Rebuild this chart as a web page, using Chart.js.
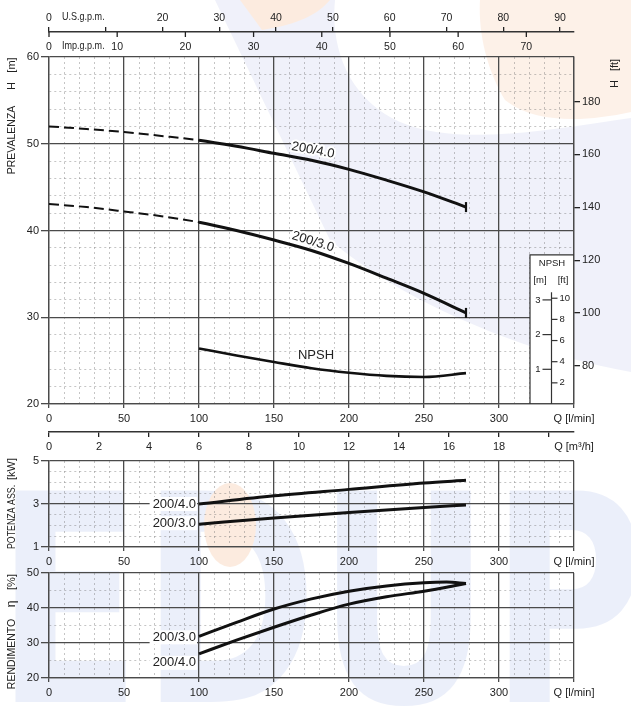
<!DOCTYPE html>
<html lang="it">
<head>
<meta charset="utf-8">
<title>Curve caratteristiche 200/3.0 - 200/4.0</title>
<script src="https://cdn.jsdelivr.net/npm/chart.js@4.4.1/dist/chart.umd.min.js"></script>
<style>
  body { margin: 0; background: #fff; }
  #wrap { position: relative; width: 631px; height: 709px; overflow: hidden; }
  #wm { position: absolute; left: 0; top: 0; opacity: 0.55; }
  canvas { position: absolute; left: 0; }
</style>
</head>
<body>
<div id="wrap">
  <!-- filigrana di sfondo -->
  <svg id="wm" width="631" height="709" viewBox="0 0 631 709">
    <path d="M215,0 L335,0 C330,50 350,100 400,122 C460,148 560,128 631,118 L631,372 C520,352 400,300 330,240 Z" fill="#e4e7f6"/>
    <path d="M480,0 L631,0 L631,112 C585,122 535,124 505,100 C488,72 478,35 480,0 Z" fill="#fde6d6"/>
    <path d="M240,0 L330,0 C318,14 300,24 262,30 Z" fill="#fbdcc6"/>
    <text x="-4" y="702" font-family="DejaVu Sans" font-weight="bold" font-size="290" textLength="650" lengthAdjust="spacingAndGlyphs" fill="#dce3f7">EDUP</text>
    <ellipse cx="230" cy="525" rx="26" ry="42" fill="#fbdcc6"/>
  </svg>
  <canvas id="cH" width="631" height="455" style="top:0;width:631px;height:455px"></canvas>
  <canvas id="cP" width="631" height="118" style="top:452px;width:631px;height:118px"></canvas>
  <canvas id="cE" width="631" height="143" style="top:566px;width:631px;height:143px"></canvas>
</div>
<script>
// --- dati ---
const curveNames = ['200/4.0', '200/3.0'];
const qHead  = [0, 25, 50, 75, 100, 125, 150, 175, 200, 225, 250, 278];
const head40 = [52.0, 51.7, 51.35, 50.9, 50.4, 49.7, 48.9, 48.1, 47.05, 45.8, 44.45, 42.7];
const head30 = [43.05, 42.7, 42.2, 41.65, 40.95, 40.0, 38.9, 37.7, 36.2, 34.5, 32.75, 30.5];
const qNpsh  = [100, 125, 150, 175, 200, 225, 250, 278];
const npsh   = [1.6, 1.4, 1.21, 1.03, 0.9, 0.81, 0.78, 0.89];
const qPow   = [100, 150, 200, 250, 278];
const pow40  = [3.0, 3.38, 3.68, 3.98, 4.1];
const pow30  = [2.06, 2.35, 2.61, 2.84, 2.95];
const qEff   = [100, 125, 150, 175, 200, 225, 250, 265, 278];
const eff30  = [31.9, 35.9, 39.7, 42.6, 44.8, 46.3, 47.2, 47.4, 47.0];
const eff40  = [26.9, 30.8, 34.5, 38.0, 41.1, 43.2, 44.8, 45.9, 47.0];

// tick labels
const qTicks    = [0, 50, 100, 150, 200, 250, 300];
const usTicks   = [0, 10, 20, 30, 40, 50, 60, 70, 80, 90];
const impTicks  = [0, 10, 20, 30, 40, 50, 60, 70];
const m3Ticks   = [0, 2, 4, 6, 8, 10, 12, 14, 16, 18, 20];
const hTicks    = [20, 30, 40, 50, 60];
const ftTicks   = [80, 100, 120, 140, 160, 180];
const npshMTicks  = [1, 2, 3];
const npshFtTicks = [2, 4, 6, 8, 10];
const powTicks  = [1, 3, 5];
const effTicks  = [20, 30, 40, 50];

// conversioni
const Q_MAX = 350;
const LPM_US = 3.78541, LPM_IMP = 4.54609, LPM_M3H = 1000 / 60, FT_M = 3.28084;

const FONT = "'Liberation Sans', 'DejaVu Sans', Arial, sans-serif";
const INK = '#222';
const MAJOR = '#4a4a4a';
const MINOR = 'rgba(110,110,110,0.5)';
Chart.defaults.font.family = FONT;
Chart.defaults.font.size = 11;
Chart.defaults.color = INK;
Chart.defaults.animation = false;

const range = (a, b, s) => { const r = []; for (let v = a; v <= b + 1e-9; v += s) r.push(Math.round(v * 100) / 100); return r; };
const pts = (xs, ys) => xs.map((x, i) => ({ x, y: ys[i] }));

function fix(prop, val) {
  return s => { s[prop] = val; s.paddingLeft = s.paddingRight = s.paddingTop = s.paddingBottom = 0; };
}
const isMaj = (c, majors) => !!(c.tick && majors.includes(c.tick.value));
function gridStyle(majors, tickLen) {
  return {
    color: c => isMaj(c, majors) ? MAJOR : MINOR,
    lineWidth: c => isMaj(c, majors) ? 1.3 : 0.8,
    tickColor: c => isMaj(c, majors) ? MAJOR : 'rgba(0,0,0,0)',
    tickLength: tickLen
  };
}
function borderStyle(majors) {
  return { color: MAJOR, width: 1.3, dash: c => (c.tick && !majors.includes(c.tick.value)) ? [2, 3] : [] };
}

const qMajors = qTicks.concat([Q_MAX]);
function qScale(height) {
  return {
    type: 'linear', position: 'bottom', weight: 1, min: 0, max: Q_MAX,
    afterBuildTicks: s => { s.ticks = range(0, Q_MAX, 10).map(v => ({ value: v })); },
    afterFit: fix('height', height),
    ticks: { autoSkip: false, maxRotation: 0, padding: 4,
      callback: v => v === Q_MAX ? 'Q [l/min]' : (qTicks.includes(v) ? String(v) : '') },
    grid: gridStyle(qMajors, 4),
    border: borderStyle(qMajors)
  };
}
function valScale(min, max, step, labels, majors) {
  return {
    type: 'linear', position: 'left', min, max,
    afterBuildTicks: s => { s.ticks = range(min, max, step).map(v => ({ value: v })); },
    afterFit: fix('width', 49),
    ticks: { autoSkip: false, padding: 2, callback: v => labels.includes(v) ? String(v) : '' },
    grid: gridStyle(majors, 8),
    border: borderStyle(majors)
  };
}

const lineBase = { borderColor: '#111', borderWidth: 3, pointRadius: 0, fill: false,
  cubicInterpolationMode: 'monotone', xAxisID: 'x' };
const endTick = { pointStyle: 'line', rotation: 90, pointBorderWidth: 2.2, pointBorderColor: '#111',
  pointRadius: c => c.dataIndex === c.dataset.data.length - 1 ? 5 : 0 };
const dashed = { borderDash: c => c.p1.parsed.x <= 100 ? [10, 5] : undefined,
  borderWidth: c => c.p1.parsed.x <= 100 ? 2 : 3 };

// testo verticale, leggermente condensato come nell'originale
function vText(ctx, txt, x, y, size, squeeze) {
  ctx.save(); ctx.translate(x, y); ctx.rotate(-Math.PI / 2); ctx.scale(squeeze || 1, 1);
  ctx.font = size + 'px ' + FONT; ctx.fillStyle = INK;
  ctx.textAlign = 'center'; ctx.textBaseline = 'middle';
  ctx.fillText(txt, 0, 0); ctx.restore();
}
function narrowText(ctx, txt, x, y, size, squeeze) {
  ctx.save(); ctx.translate(x, y); ctx.scale(squeeze, 1);
  ctx.font = size + 'px ' + FONT; ctx.fillStyle = INK;
  ctx.textAlign = 'left'; ctx.textBaseline = 'middle';
  ctx.fillText(txt, 0, 0); ctx.restore();
}
function haloText(ctx, txt, x, y, deg, align) {
  ctx.save(); ctx.translate(x, y); ctx.rotate(deg * Math.PI / 180);
  ctx.font = '13px ' + FONT; ctx.textAlign = align || 'center'; ctx.textBaseline = 'middle';
  ctx.strokeStyle = '#fff'; ctx.lineWidth = 4; ctx.lineJoin = 'round';
  ctx.strokeText(txt, 0, 0); ctx.fillStyle = INK; ctx.fillText(txt, 0, 0); ctx.restore();
}
function seg(ctx, x1, y1, x2, y2) { ctx.beginPath(); ctx.moveTo(x1, y1); ctx.lineTo(x2, y2); ctx.stroke(); }

// ---------- grafico prevalenza ----------
const headExtras = {
  id: 'headExtras',
  beforeDatasetsDraw(chart) {
    const { ctx, chartArea: a } = chart;
    const yn = chart.scales.yn;
    const top = yn.getPixelForValue(4.3), bot = a.bottom;
    const L = a.right - 44, mid = a.right - 22.5;
    ctx.save();
    ctx.fillStyle = '#fff';
    ctx.fillRect(L, top, a.right - L - 1, bot - top - 1);
    ctx.strokeStyle = '#333'; ctx.lineWidth = 1.2;
    ctx.beginPath(); ctx.moveTo(L, bot); ctx.lineTo(L, top); ctx.lineTo(a.right, top); ctx.stroke();
    seg(ctx, mid, yn.getPixelForValue(3.22), mid, bot);
    ctx.fillStyle = INK; ctx.font = '9.5px ' + FONT;
    ctx.textAlign = 'center'; ctx.textBaseline = 'middle';
    ctx.fillText('NPSH', (L + a.right) / 2, top + 9);
    ctx.fillText('[m]', L + 10, top + 26);
    ctx.fillText('[ft]', a.right - 11, top + 26);
    ctx.textAlign = 'right';
    npshMTicks.forEach(m => { const y = yn.getPixelForValue(m); seg(ctx, mid - 9, y, mid, y); ctx.fillText(String(m), mid - 11, y); });
    ctx.textAlign = 'left';
    npshFtTicks.forEach(f => { const y = yn.getPixelForValue(f / FT_M); seg(ctx, mid, y, mid + 6, y); ctx.fillText(String(f), mid + 8, y); });
    ctx.restore();
  },
  afterDatasetsDraw(chart) {
    const { ctx } = chart;
    const x = chart.scales.x, y = chart.scales.y, yn = chart.scales.yn;
    haloText(ctx, curveNames[0], x.getPixelForValue(176), y.getPixelForValue(49.25), 11);
    haloText(ctx, curveNames[1], x.getPixelForValue(176), y.getPixelForValue(38.7), 17);
    haloText(ctx, 'NPSH', x.getPixelForValue(178), yn.getPixelForValue(1.4), 0);
  },
  afterDraw(chart) {
    const { ctx } = chart;
    const xi = chart.scales.ximp, xu = chart.scales.xus;
    ctx.save();
    ctx.strokeStyle = INK; ctx.lineWidth = 1.3;
    impTicks.forEach(v => { const px = xi.getPixelForValue(v); seg(ctx, px, xu.bottom, px, xu.bottom + 5); });
    ctx.restore();
    narrowText(ctx, 'U.S.g.p.m.', xu.getPixelForValue(0) + 13, 17, 10.5, 0.86);
    narrowText(ctx, 'Imp.g.p.m.', xi.getPixelForValue(0) + 13, 46, 10.5, 0.86);
    vText(ctx, 'PREVALENZA', 12, 140, 10.5);
    vText(ctx, 'H', 12, 86, 11);
    vText(ctx, '[m]', 12, 65, 11);
    vText(ctx, 'H', 615, 84, 11);
    vText(ctx, '[ft]', 615, 65, 11);
  }
};

new Chart(document.getElementById('cH'), {
  type: 'line',
  data: { datasets: [
    Object.assign({}, lineBase, endTick, { data: pts(qHead, head40), yAxisID: 'y', segment: dashed }),
    Object.assign({}, lineBase, endTick, { data: pts(qHead, head30), yAxisID: 'y', segment: dashed }),
    Object.assign({}, lineBase, { data: pts(qNpsh, npsh), yAxisID: 'yn', borderWidth: 2.6 })
  ] },
  options: {
    responsive: false,
    layout: { padding: 0 },
    plugins: { legend: { display: false }, tooltip: { enabled: false } },
    scales: {
      x: qScale(28),
      xm3: {
        type: 'linear', position: 'bottom', weight: 2, min: 0, max: Q_MAX / LPM_M3H,
        afterBuildTicks: s => { s.ticks = m3Ticks.concat([Q_MAX / LPM_M3H]).map(v => ({ value: v })); },
        afterFit: fix('height', 23),
        ticks: { autoSkip: false, maxRotation: 0, padding: 3,
          callback: v => v === 20 ? '' : (m3Ticks.includes(v) ? String(v) : 'Q [m³/h]') },
        grid: { drawOnChartArea: false, tickLength: 5, lineWidth: 1.3,
          tickColor: c => (c.tick && c.tick.value > 20) ? 'rgba(0,0,0,0)' : INK },
        border: { color: '#333', width: 1.4 }
      },
      ximp: {
        type: 'linear', position: 'top', weight: 1, min: 0, max: Q_MAX / LPM_IMP,
        afterBuildTicks: s => { s.ticks = impTicks.map(v => ({ value: v })); },
        afterFit: fix('height', 25),
        ticks: { autoSkip: false, maxRotation: 0, padding: 4, font: { size: 10.5 } },
        grid: { display: false, drawTicks: false, tickLength: 0 },
        border: { display: false }
      },
      xus: {
        type: 'linear', position: 'top', weight: 2, min: 0, max: Q_MAX / LPM_US,
        afterBuildTicks: s => { s.ticks = usTicks.map(v => ({ value: v })); },
        afterFit: fix('height', 32),
        ticks: { autoSkip: false, maxRotation: 0, padding: 3, font: { size: 10.5 },
          callback: v => v === 10 ? '' : String(v) },
        grid: { drawOnChartArea: false, tickLength: 5, lineWidth: 1.3, tickColor: INK },
        border: { color: '#333', width: 1.4 }
      },
      y: valScale(20, 60, 2, hTicks, hTicks),
      yft: {
        type: 'linear', position: 'right', min: 20 * FT_M, max: 60 * FT_M,
        afterBuildTicks: s => { s.ticks = ftTicks.map(v => ({ value: v })); },
        afterFit: fix('width', 57),
        ticks: { autoSkip: false, padding: 2 },
        grid: { drawOnChartArea: false, tickLength: 6, lineWidth: 1.3, tickColor: INK },
        border: { color: MAJOR, width: 1.3 }
      },
      yn: { type: 'linear', display: false, position: 'right', min: 0, max: 10 }
    }
  },
  plugins: [headExtras]
});

// ---------- potenza assorbita ----------
function sideLabels(yId, values, offsets) {
  return {
    id: 'sideLabels',
    afterDatasetsDraw(chart) {
      const { ctx } = chart;
      const x = chart.scales.x, y = chart.scales[yId];
      values.forEach((v, i) => {
        const px = x.getPixelForValue(100) - 3, py = y.getPixelForValue(v) + offsets[i];
        ctx.save(); ctx.font = '13px ' + FONT;
        const w = ctx.measureText(curveNames[i]).width;
        ctx.fillStyle = '#fff'; ctx.fillRect(px - w - 3, py - 7, w + 4, 14);
        ctx.fillStyle = INK; ctx.textAlign = 'right'; ctx.textBaseline = 'middle';
        ctx.fillText(curveNames[i], px, py); ctx.restore();
      });
    }
  };
}

new Chart(document.getElementById('cP'), {
  type: 'line',
  data: { datasets: [
    Object.assign({}, lineBase, { data: pts(qPow, pow40), yAxisID: 'y' }),
    Object.assign({}, lineBase, { data: pts(qPow, pow30), yAxisID: 'y' })
  ] },
  options: {
    responsive: false,
    layout: { padding: { top: 9, right: 57, left: 0, bottom: 0 } },
    plugins: { legend: { display: false }, tooltip: { enabled: false } },
    scales: { x: qScale(23), y: valScale(1, 5, 0.5, powTicks, powTicks) }
  },
  plugins: [sideLabels('y', [pow40[0], pow30[0]], [0, -1]), {
    id: 'powTitle',
    afterDraw(chart) { vText(chart.ctx, 'POTENZA ASS.', 12, 65, 10.5, 0.84); vText(chart.ctx, '[kW]', 12, 17, 11); }
  }]
});

// ---------- rendimento ----------
new Chart(document.getElementById('cE'), {
  type: 'line',
  data: { datasets: [
    Object.assign({}, lineBase, { data: pts(qEff, eff30), yAxisID: 'y' }),
    Object.assign({}, lineBase, { data: pts(qEff, eff40), yAxisID: 'y' })
  ] },
  options: {
    responsive: false,
    layout: { padding: { top: 7, right: 57, left: 0, bottom: 0 } },
    plugins: { legend: { display: false }, tooltip: { enabled: false } },
    scales: { x: qScale(31), y: valScale(20, 50, 5, effTicks, effTicks) }
  },
  plugins: [sideLabels('y', [eff40[0], eff30[0]], [9, 1]), {
    id: 'effTitle',
    afterDraw(chart) {
      vText(chart.ctx, 'RENDIMENTO', 12, 88, 10.5);
      vText(chart.ctx, 'η', 12, 38, 12);
      vText(chart.ctx, '[%]', 12, 16, 11);
    }
  }]
});
</script>
</body>
</html>
